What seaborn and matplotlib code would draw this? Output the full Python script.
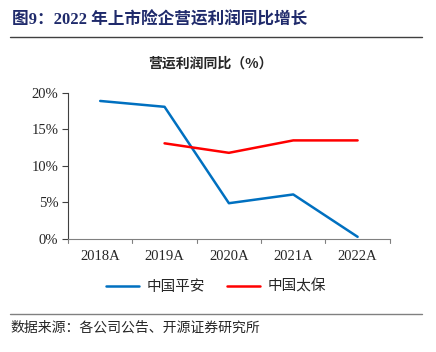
import matplotlib
matplotlib.use("Agg")
import matplotlib.pyplot as plt
import seaborn as sns
import pandas as pd
import numpy as np
from matplotlib.lines import Line2D

# DATA
years = ['2018A', '2019A', '2020A', '2021A', '2022A']
pingan = [18.9, 18.1, 4.9, 6.1, 0.3]
cpic = [np.nan, 13.1, 11.8, 13.5, 13.5]
series_names = ['中国平安', '中国太保']
colors = ['#0070C0', '#FF0000']

df = pd.DataFrame({
    'year': years * 2,
    'value': pingan + cpic,
    'company': [series_names[0]] * len(years) + [series_names[1]] * len(years),
})

sns.set_style('white')
plt.rcParams['font.family'] = ['Liberation Serif', 'Noto Sans CJK SC']
plt.rcParams['axes.linewidth'] = 0.8

fig = plt.figure(figsize=(4.36, 3.52), dpi=100)
ax = fig.add_axes([0.156, 0.321, 0.738, 0.415])

sns.lineplot(data=df, x='year', y='value', hue='company', palette=colors,
             linewidth=1.8, sort=False, ax=ax, legend=False)

ax.set_xlim(-0.5, 4.5)
ax.set_ylim(0, 20)
ax.set_yticks([0, 5, 10, 15, 20])
ax.set_yticklabels([f'{v}%' for v in [0, 5, 10, 15, 20]], fontsize=10.5)
ax.set_xticks(range(len(years)))
ax.set_xticklabels(years, fontsize=10.5)
ax.set_xlabel('')
ax.set_ylabel('')
ax.tick_params(axis='x', length=0, pad=8)
ax.tick_params(axis='y', length=4, width=0.8, color='#404040', pad=3, direction='out', left=True)
# boundary ticks between categories
for b in np.arange(-0.5, 5.0, 1.0):
    ax.plot([b, b], [0, -0.5], color='#808080', lw=0.8, clip_on=False)
for s in ['top', 'right']:
    ax.spines[s].set_visible(False)
ax.spines['left'].set_color('#404040')
ax.spines['bottom'].set_color('#808080')

# legend
handles = [Line2D([], [], color=c, lw=1.8) for c in colors]
fig.legend(handles, series_names, loc='center', bbox_to_anchor=(0.495, 0.185), ncol=2,
           frameon=False, handlelength=2.3, handletextpad=0.5, columnspacing=1.5,
           prop={'family': 'Noto Sans CJK SC', 'size': 10.5})

# titles and rules
fig.text(0.027, 0.943, '图9：2022 年上市险企营运利润同比增长', color='#1F2A6B',
         fontsize=12, fontweight='bold', va='center', ha='left',
         family=['Liberation Serif', 'Noto Sans CJK SC'])
fig.add_artist(Line2D([0.023, 0.968], [0.895, 0.895], color='#404040', lw=1.0))
fig.text(0.482, 0.82, '营运利润同比（%）', fontsize=10, fontweight='bold',
         ha='center', va='center', family=['Noto Sans CJK SC'])
fig.add_artist(Line2D([0.023, 0.968], [0.108, 0.108], color='#808080', lw=1.0))
fig.text(0.025, 0.068, '数据来源：各公司公告、开源证券研究所', fontsize=10,
         ha='left', va='center', family=['Noto Sans CJK SC'])

fig.savefig('out.png', dpi=100)
